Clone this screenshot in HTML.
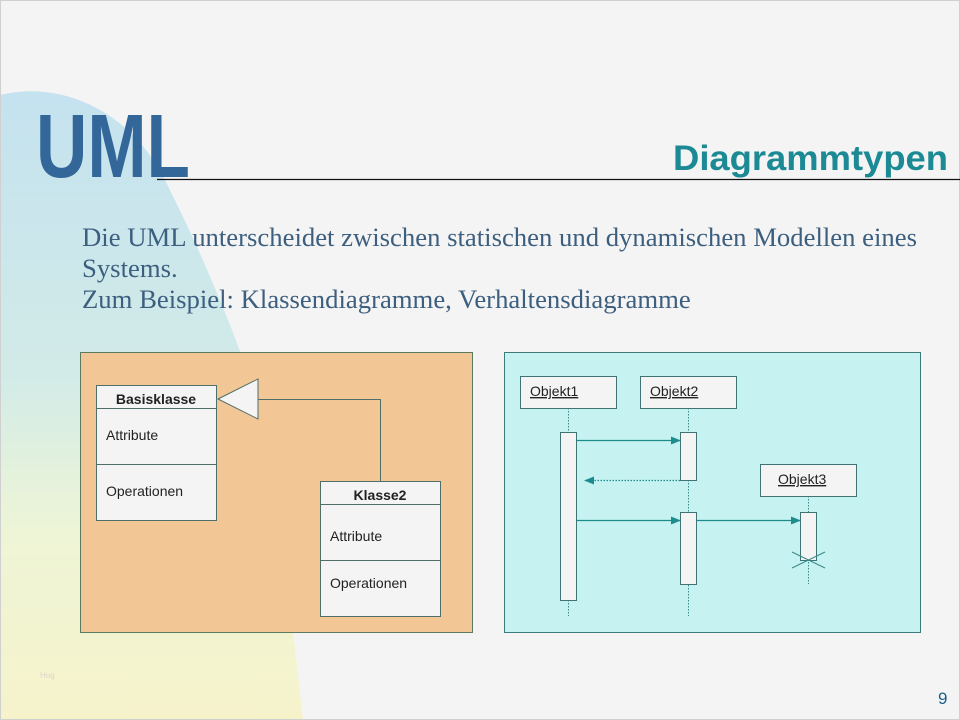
<!DOCTYPE html>
<html><head><meta charset="utf-8"><style>
html,body{margin:0;padding:0;background:#f4f4f4;}
svg{display:block;}
</style></head><body>
<svg width="960" height="720" viewBox="0 0 960 720" xmlns="http://www.w3.org/2000/svg">
<defs>
<linearGradient id="bg" x1="0" y1="0" x2="0" y2="1">
<stop offset="0" stop-color="#c4e2ef"/>
<stop offset="0.45" stop-color="#d2ebe8"/>
<stop offset="0.7" stop-color="#eef5d6"/>
<stop offset="1" stop-color="#f6f3cb"/>
</linearGradient>
<marker id="ah" markerWidth="10" markerHeight="8" refX="9" refY="4" orient="auto" markerUnits="userSpaceOnUse"><path d="M0,0 L10,4 L0,8 z" fill="#1f8c8c"/></marker>
</defs>
<rect x="0" y="0" width="960" height="720" fill="#f4f4f4"/>
<path d="M0,95 C60,80 130,110 165,180 C200,250 230,320 250,380 C270,440 290,600 303,720 L0,720 Z" fill="url(#bg)"/>
<rect x="0.5" y="0.5" width="959" height="719" fill="none" stroke="#d0d0d0"/>
<text transform="translate(36,177) scale(0.79,1)" x="0" y="0" font-family="Liberation Sans, sans-serif" font-weight="bold" font-size="90" fill="#336699">UML</text>
<line x1="157" y1="179.5" x2="960" y2="179.5" stroke="#111" stroke-width="1.2"/>
<text transform="translate(948,170) scale(1.04,1)" x="0" y="0" text-anchor="end" font-family="Liberation Sans, sans-serif" font-weight="bold" font-size="35" fill="#1b8a94">Diagrammtypen</text>
<g font-family="Liberation Serif, serif" font-size="26.7" fill="#3d5f7f">
<text x="82" y="246">Die UML unterscheidet zwischen statischen und dynamischen Modellen eines</text>
<text x="82" y="277">Systems.</text>
<text x="82" y="308">Zum Beispiel: Klassendiagramme, Verhaltensdiagramme</text>
</g>
<!-- left panel -->
<rect x="80.5" y="352.5" width="392" height="280" fill="#f3c795" stroke="#5c7a60"/>
<g stroke="#4e6e6a" fill="#f4f4f4">
<rect x="96.5" y="385.5" width="120" height="135"/>
<line x1="96" y1="408.5" x2="216" y2="408.5"/>
<line x1="96" y1="464.5" x2="216" y2="464.5"/>
<rect x="320.5" y="481.5" width="120" height="135"/>
<line x1="320" y1="504.5" x2="440" y2="504.5"/>
<line x1="320" y1="560.5" x2="440" y2="560.5"/>
<polyline points="258,399.5 380.5,399.5 380.5,481" fill="none"/>
<polygon points="218,399 258,379 258,419"/>
</g>
<g font-family="Liberation Sans, sans-serif" font-size="14" fill="#222">
<text x="156" y="404" text-anchor="middle" font-weight="bold">Basisklasse</text>
<text x="106" y="440">Attribute</text>
<text x="106" y="496">Operationen</text>
<text x="380" y="500" text-anchor="middle" font-weight="bold">Klasse2</text>
<text x="330" y="541">Attribute</text>
<text x="330" y="588">Operationen</text>
</g>
<!-- right panel -->
<rect x="504.5" y="352.5" width="416" height="280" fill="#c6f2f2" stroke="#3f7a7a"/>
<g stroke="#3a8a8a" stroke-dasharray="1.5,1.5" stroke-width="1">
<line x1="568.5" y1="408" x2="568.5" y2="616"/>
<line x1="688.5" y1="408" x2="688.5" y2="616"/>
<line x1="808.5" y1="496" x2="808.5" y2="584"/>
</g>
<g stroke="#3f7272" fill="#f4f4f4">
<rect x="520.5" y="376.5" width="96" height="32"/>
<rect x="640.5" y="376.5" width="96" height="32"/>
<rect x="760.5" y="464.5" width="96" height="32"/>
<rect x="560.5" y="432.5" width="16" height="168"/>
<rect x="680.5" y="432.5" width="16" height="48"/>
<rect x="680.5" y="512.5" width="16" height="72"/>
<rect x="800.5" y="512.5" width="16" height="48"/>
</g>
<g stroke="#1f8c8c" stroke-width="1.3" fill="none">
<line x1="577" y1="440.5" x2="680" y2="440.5" marker-end="url(#ah)"/>
<line x1="680" y1="480.5" x2="585" y2="480.5" stroke-dasharray="1.5,1.5" marker-end="url(#ah)"/>
<line x1="577" y1="520.5" x2="680" y2="520.5" marker-end="url(#ah)"/>
<line x1="697" y1="520.5" x2="800" y2="520.5" marker-end="url(#ah)"/>
</g>
<g stroke="#3a8a8a" stroke-width="1">
<line x1="792" y1="552" x2="825" y2="568"/>
<line x1="792" y1="568" x2="825" y2="552"/>
</g>
<g font-family="Liberation Sans, sans-serif" font-size="14" fill="#222" text-decoration="underline">
<text x="530" y="396">Objekt1</text>
<text x="650" y="396">Objekt2</text>
<text x="778" y="484">Objekt3</text>
</g>
<text x="40" y="678" font-family="Liberation Sans, sans-serif" font-size="8" fill="#d8d8c8">Hog</text>
<text x="938" y="704" font-family="Liberation Sans, sans-serif" font-size="17" fill="#1b5f8a">9</text>
</svg>
</body></html>
